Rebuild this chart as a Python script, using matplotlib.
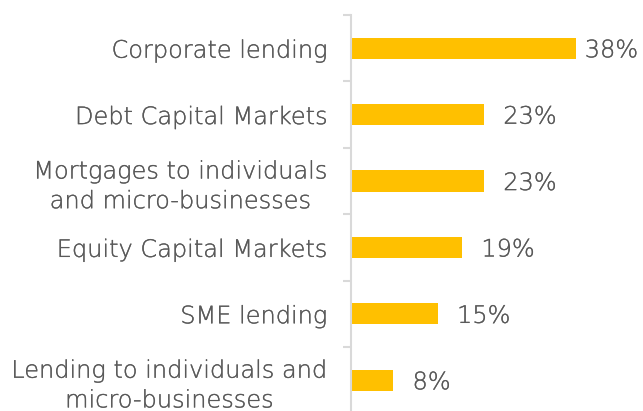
import matplotlib
matplotlib.use("Agg")
import matplotlib.pyplot as plt
import matplotlib.patheffects as pe
import numpy as np

categories = [
    "Corporate lending",
    "Debt Capital Markets",
    "Mortgages to individuals\nand micro-businesses",
    "Equity Capital Markets",
    "SME lending",
    "Lending to individuals and\nmicro-businesses",
]
values = [38.0, 22.4, 22.4, 18.7, 14.6, 7.1]
value_labels = ["38%", "23%", "23%", "19%", "15%", "8%"]

BAR = "#FFC000"
TEXT = "#595959"
AXIS = "#D9D9D9"
FONT = "DejaVu Sans"
WEIGHT = "ultralight"
FS = 17.3
effects = [pe.withStroke(linewidth=0.2, foreground=TEXT)]

W, H = 643, 411
fig = plt.figure(figsize=(W / 100, H / 100), dpi=100)
left_px, top_px, bottom_px = 351.0, 15.0, 413.4
ax = fig.add_axes([left_px / W, (H - bottom_px) / H, (W - left_px) / W, (bottom_px - top_px) / H])

n = len(categories)
y = np.arange(n)
ax.barh(y, values, height=0.32, color=BAR, edgecolor="none")
ax.set_ylim(n - 0.5, -0.5)
ax.set_xlim(0, (W - left_px) / 5.93)

for s in ["top", "right", "bottom"]:
    ax.spines[s].set_visible(False)
ax.spines["left"].set_color(AXIS)
ax.spines["left"].set_linewidth(1.5)
ax.set_xticks([])

ax.set_yticks(y)
ax.set_yticklabels(categories, fontfamily=FONT, fontweight=WEIGHT, fontsize=FS,
                   color=TEXT, multialignment="center", linespacing=1.3)
for t in ax.get_yticklabels():
    t.set_path_effects(effects)
ax.tick_params(axis="y", which="major", length=0, pad=17)
ax.set_yticks(np.arange(-0.5, n, 1.0), minor=True)
ax.tick_params(axis="y", which="minor", length=6, width=1.5, color=AXIS)

fig.canvas.draw()
renderer = fig.canvas.get_renderer()
anns = []
for yi, v, lab in zip(y, values, value_labels):
    a = ax.annotate(lab, xy=(v, yi), xytext=(14, -1.5), textcoords="offset points",
                    ha="left", va="center", fontfamily=FONT, fontweight=WEIGHT,
                    fontsize=FS, color=TEXT, annotation_clip=False, path_effects=effects)
    anns.append(a)
fig.canvas.draw()
for a in anns:
    bb = a.get_window_extent(renderer)
    if bb.x1 > 638:
        dx = (bb.x1 - 638) * 72 / 100
        ox, oy = a.xyann
        a.xyann = (ox - dx, oy)

fig.savefig("out.png", dpi=100)
